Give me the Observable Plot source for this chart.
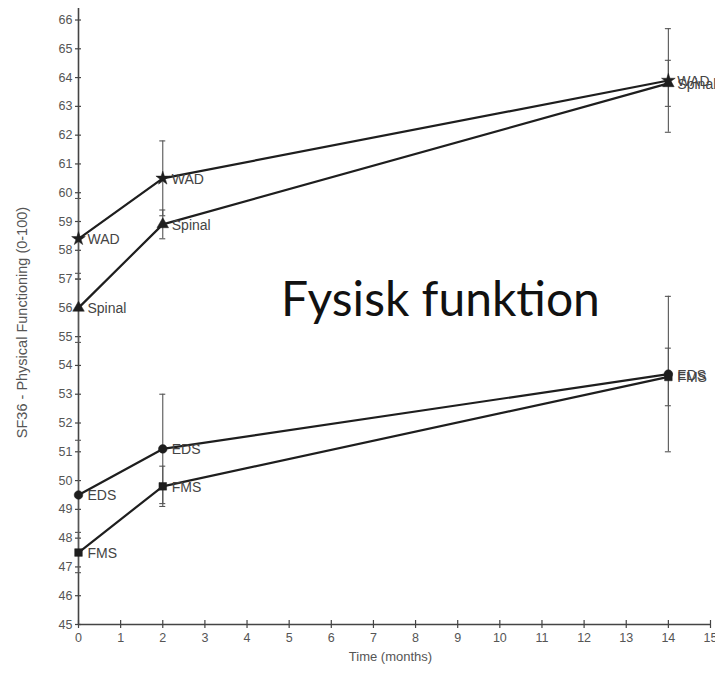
<!DOCTYPE html>
<html>
<head>
<meta charset="utf-8">
<script src="https://cdn.jsdelivr.net/npm/d3@7"></script>
<script src="https://cdn.jsdelivr.net/npm/@observablehq/plot@0.6"></script>
<style>
  body { margin: 0; background: #fff; }
</style>
</head>
<body>
<div id="chart"></div>
<script>
const times = [0, 2, 14];
const groups = ["WAD", "Spinal", "EDS", "FMS"];
const wad = [58.4, 60.5, 63.9];
const spinal = [56.0, 58.9, 63.8];
const eds = [49.5, 51.1, 53.7];
const fms = [47.5, 49.8, 53.6];
const wadErr = [1.4, 1.3, 1.8];
const spinalErr = [1.2, 0.5, 0.8];
const edsErr = [1.9, 1.9, 2.7];
const fmsErr = [0.7, 0.7, 1.0];
const symbols = ["star", "triangle", "circle", "square"];
const xTicks = [0,1,2,3,4,5,6,7,8,9,10,11,12,13,14,15];
const yTicks = [45,46,47,48,49,50,51,52,53,54,55,56,57,58,59,60,61,62,63,64,65,66];
const yLabel = "SF36 - Physical Functioning (0-100)";
const xLabel = "Time (months)";
const title = "Fysisk funktion";

const series = [wad, spinal, eds, fms];
const errs = [wadErr, spinalErr, edsErr, fmsErr];
const rows = [];
groups.forEach((g, i) => {
  times.forEach((t, j) => {
    rows.push({group: g, symbol: symbols[i], t, v: series[i][j], lo: series[i][j] - errs[i][j], hi: series[i][j] + errs[i][j]});
  });
});
const caps = rows.flatMap(d => [{t: d.t, v: d.lo}, {t: d.t, v: d.hi}]);

const ink = "#1e1e1e";
const font = "Liberation Sans, Arial, sans-serif";
const plot = Plot.plot({
  width: 715,
  height: 673,
  marginLeft: 78,
  marginRight: 5,
  marginTop: 8,
  marginBottom: 49,
  style: {fontFamily: font, fontSize: "12px", color: "#555", background: "#fff"},
  x: {domain: [0, 15], ticks: xTicks, label: null},
  y: {domain: [45, 66.4], ticks: yTicks, label: null},
  symbol: {type: "identity"},
  marks: [
    Plot.axisX(xTicks, {tickSize: 0, tickPadding: 9, fontSize: 12.5, fill: "#555", label: null}),
    Plot.axisY(yTicks, {tickSize: 0, tickPadding: 6, fontSize: 12.5, fill: "#555", label: null}),
    // axis lines
    Plot.ruleX([0], {y1: 45, y2: 66.4, stroke: "#444", strokeWidth: 1.6}),
    Plot.ruleY([45], {x1: 0, x2: 15, stroke: "#444", strokeWidth: 1.6}),
    // crossing ticks
    Plot.ruleY(yTicks, {y: d => d, x1: 0, x2: 0, insetLeft: -3, insetRight: -3, stroke: "#444", strokeWidth: 1.2}),
    Plot.ruleX(xTicks, {x: d => d, y1: 45, y2: 45, insetTop: -4, insetBottom: -4, stroke: "#444", strokeWidth: 1.2}),
    // error bars
    Plot.ruleX(rows, {x: "t", y1: "lo", y2: "hi", stroke: "#555", strokeWidth: 1.1}),
    Plot.ruleY(caps, {y: "v", x1: "t", x2: "t", insetLeft: -3, insetRight: -3, stroke: "#555", strokeWidth: 1.1}),
    // lines
    Plot.line(rows, {x: "t", y: "v", z: "group", stroke: ink, strokeWidth: 2.2}),
    Plot.dot(rows, {x: "t", y: "v", symbol: "symbol", r: 4.3, fill: ink, stroke: ink, strokeWidth: 0.5}),
    Plot.text(rows, {x: "t", y: "v", text: "group", dx: 9, dy: 1, textAnchor: "start", fontSize: 14, fill: "#444", fontFamily: font}),
    // axis labels
    Plot.text([yLabel], {frameAnchor: "left", dx: -56, dy: 6, rotate: -90, textAnchor: "middle", fontSize: 14.5, fill: "#555"}),
    Plot.text([xLabel], {frameAnchor: "bottom", dy: 36, dx: -4, fontSize: 13, fill: "#555"}),
    // big annotation
    Plot.text([title], {frameAnchor: "middle", dx: 46, dy: -16, fontSize: 48, fill: "#111", fontFamily: "Lato, Open Sans, sans-serif"})
  ]
});
document.getElementById("chart").appendChild(plot);
</script>
</body>
</html>
